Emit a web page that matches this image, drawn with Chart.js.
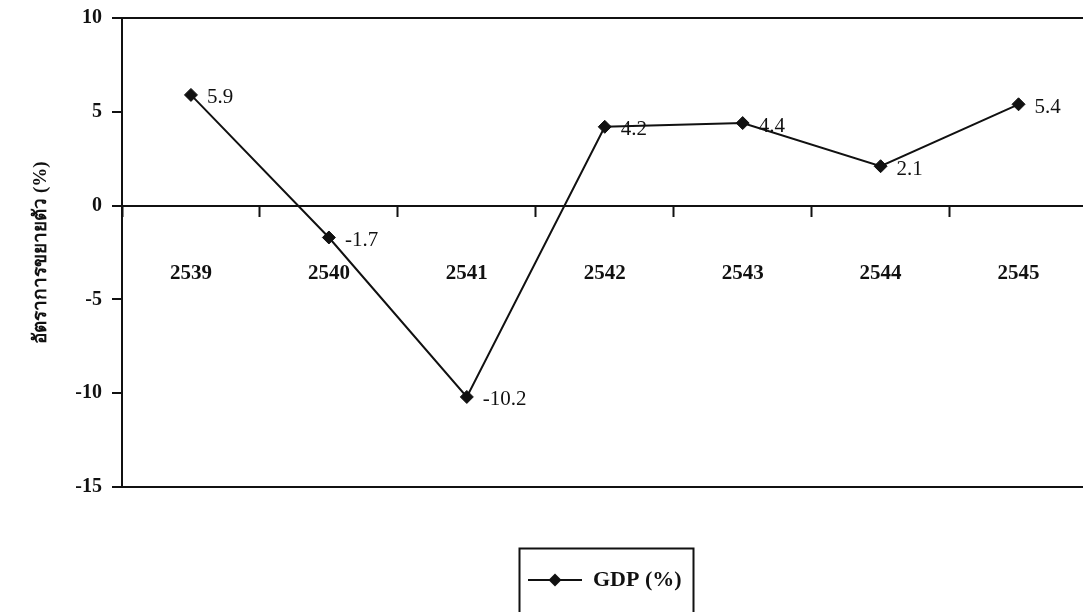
<!DOCTYPE html>
<html>
<head>
<meta charset="utf-8">
<script src="https://cdn.jsdelivr.net/npm/chart.js@4/dist/chart.umd.min.js"></script>
<style>
  html, body { margin: 0; padding: 0; background: #fff; }
  #wrap { width: 1083px; height: 612px; overflow: hidden; position: relative; }
  canvas { display: block; }
</style>
</head>
<body>
<div id="wrap"><canvas id="c" width="1095" height="673"></canvas></div>
<script>
// GDP growth by Buddhist-era year
const years = ['2539', '2540', '2541', '2542', '2543', '2544', '2545'];
const gdpGrowth = [5.9, -1.7, -10.2, 4.2, 4.4, 2.1, 5.4];
const seriesName = 'GDP (%)';
const yTitle = 'อัตราการขยายตัว (%)';
const yMin = -15, yMax = 10, yStep = 5;

const SERIF = '"Liberation Serif", "Times New Roman", "DejaVu Serif", serif';

// legend swatch: short line with a diamond in the middle
function makeSwatch() {
  const c = document.createElement('canvas');
  c.width = 54; c.height = 16;
  const g = c.getContext('2d');
  g.strokeStyle = '#111'; g.lineWidth = 2;
  g.beginPath(); g.moveTo(0, 8); g.lineTo(54, 8); g.stroke();
  g.fillStyle = '#111';
  g.beginPath(); g.moveTo(27, 1.5); g.lineTo(33.5, 8); g.lineTo(27, 14.5); g.lineTo(20.5, 8); g.closePath(); g.fill();
  return c;
}

// value labels to the right of each point
const valueLabels = {
  id: 'valueLabels',
  afterDatasetsDraw(chart) {
    const ctx = chart.ctx;
    const meta = chart.getDatasetMeta(0);
    ctx.save();
    ctx.font = '21px ' + SERIF;
    ctx.fillStyle = '#111';
    ctx.textAlign = 'left';
    ctx.textBaseline = 'middle';
    meta.data.forEach((pt, i) => {
      ctx.fillText(String(chart.data.datasets[0].data[i]), pt.x + 16, pt.y + 3);
    });
    ctx.restore();
  }
};

// frame around the legend entry
const legendFrame = {
  id: 'legendFrame',
  afterDraw(chart) {
    const lg = chart.legend;
    if (!lg || !lg.legendHitBoxes || !lg.legendHitBoxes.length) return;
    const hb = lg.legendHitBoxes[0];
    const ctx = chart.ctx;
    ctx.save();
    ctx.strokeStyle = '#111';
    ctx.lineWidth = 2;
    ctx.strokeRect(Math.round(hb.left - 9) + 0.5, Math.round(hb.top - 21) + 0.5, Math.round(hb.width + 20), 90);
    ctx.restore();
  }
};

new Chart(document.getElementById('c'), {
  type: 'line',
  data: {
    labels: years,
    datasets: [{
      label: seriesName,
      data: gdpGrowth,
      borderColor: '#111',
      backgroundColor: '#111',
      borderWidth: 2,
      pointStyle: 'rectRot',
      pointRadius: 6.5,
      pointBorderWidth: 1,
      pointBackgroundColor: '#111',
      pointBorderColor: '#111',
      tension: 0,
      fill: false
    }]
  },
  options: {
    responsive: false,
    animation: false,
    devicePixelRatio: 1,
    layout: { padding: { top: 18, right: 0, bottom: 72, left: 0 } },
    plugins: {
      legend: {
        position: 'bottom',
        fullSize: false,
        labels: {
          usePointStyle: true,
          pointStyle: makeSwatch(),
          pointStyleWidth: 54,
          padding: 82,
          color: '#111',
          font: { family: SERIF, size: 22, weight: 'bold' }
        }
      },
      tooltip: { enabled: false }
    },
    scales: {
      x: {
        position: { y: 0 },
        offset: true,
        grid: {
          offset: true,
          drawOnChartArea: false,
          drawTicks: true,
          tickLength: 10,
          tickWidth: 2,
          tickColor: '#111'
        },
        border: { display: true, color: '#111', width: 2 },
        ticks: {
          color: '#111',
          padding: 45,
          maxRotation: 0,
          font: { family: SERIF, size: 21, weight: 'bold' }
        }
      },
      y: {
        min: yMin,
        max: yMax,
        afterFit(scale) { scale.width = 122; },
        grid: {
          drawOnChartArea: true,
          color: (c) => (c.tick && (c.tick.value === yMax || c.tick.value === yMin)) ? '#111' : 'rgba(0,0,0,0)',
          lineWidth: 2,
          drawTicks: true,
          tickLength: 10,
          tickWidth: 2,
          tickColor: '#111'
        },
        border: { display: true, color: '#111', width: 2 },
        ticks: {
          stepSize: yStep,
          color: '#111',
          padding: 10,
          font: { family: SERIF, size: 20, weight: 'bold', lineHeight: 0.8 }
        },
        title: {
          display: true,
          text: yTitle,
          color: '#111',
          padding: { top: 30, bottom: 0 },
          font: { family: SERIF, size: 19, weight: 'bold' }
        }
      }
    }
  },
  plugins: [valueLabels, legendFrame]
});
</script>
</body>
</html>
